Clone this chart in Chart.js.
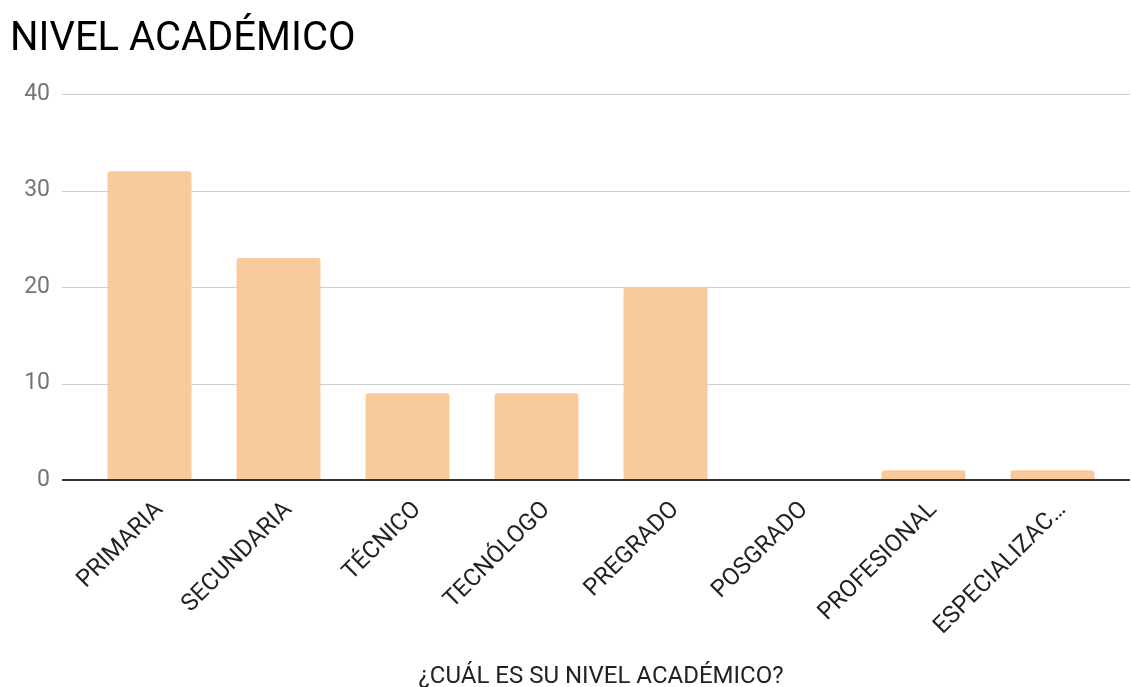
<!DOCTYPE html>
<html lang="es">
<head>
<meta charset="UTF-8">
<title>Nivel académico</title>
<script src="https://cdn.jsdelivr.net/npm/chart.js"></script>
<style>
  html, body { margin: 0; padding: 0; background: #fff; }
  #wrap { width: 1131px; height: 687px; position: relative; }
</style>
</head>
<body>
<div id="wrap"><canvas id="nivelChart"></canvas></div>
<script>
// datos
const categorias = ['PRIMARIA', 'SECUNDARIA', 'TÉCNICO', 'TECNÓLOGO', 'PREGRADO', 'POSGRADO', 'PROFESIONAL', 'ESPECIALIZACIÓN'];
const respuestas = [32, 23, 9, 9, 20, 0, 1, 1];
const ticksY = [0, 10, 20, 30, 40];

// lineas de guia mas anchas que el area de barras (como en el original)
const lineasGuia = {
  id: 'lineasGuia',
  beforeDatasetsDraw(chart) {
    const y = chart.scales.y, ctx = chart.ctx, area = chart.chartArea;
    ctx.save();
    ctx.strokeStyle = '#cccccc';
    ctx.lineWidth = 1;
    ticksY.forEach(v => {
      if (v === 0) return;
      const py = Math.round(y.getPixelForValue(v)) + 0.5;
      ctx.beginPath();
      ctx.moveTo(area.left - 23, py);
      ctx.lineTo(area.right + 13, py);
      ctx.stroke();
    });
    ctx.restore();
  },
  afterDatasetsDraw(chart) {
    const y = chart.scales.y, ctx = chart.ctx, area = chart.chartArea;
    const py = Math.round(y.getPixelForValue(0));
    ctx.save();
    ctx.strokeStyle = '#333333';
    ctx.lineWidth = 2;
    ctx.beginPath();
    ctx.moveTo(area.left - 23, py);
    ctx.lineTo(area.right + 13, py);
    ctx.stroke();
    ctx.restore();
  }
};

const ctx = document.getElementById('nivelChart').getContext('2d');
new Chart(ctx, {
  type: 'bar',
  data: {
    labels: categorias,
    datasets: [{
      label: 'Respuestas',
      data: respuestas,
      backgroundColor: '#f9cb9c',
      borderRadius: 3,
      borderSkipped: 'start',
      barPercentage: 0.651,
      categoryPercentage: 1
    }]
  },
  options: {
    responsive: true,
    maintainAspectRatio: false,
    animation: false,
    layout: { padding: { left: 10, right: 14, top: 0, bottom: 0 } },
    plugins: {
      legend: { display: false },
      tooltip: { enabled: false },
      title: {
        display: true,
        text: 'NIVEL ACADÉMICO',
        align: 'start',
        color: '#000',
        font: { family: 'Roboto', size: 40, weight: 'normal', lineHeight: 1.2 },
        padding: { top: 15.5, bottom: 30.5 }
      }
    },
    scales: {
      x: {
        grid: { display: false },
        border: { display: false },
        ticks: {
          minRotation: 45,
          maxRotation: 45,
          autoSkip: false,
          padding: 8,
          labelOffset: 10,
          color: '#222',
          font: { family: 'Roboto', size: 24 },
          callback: function (val) {
            const t = this.getLabelForValue(val);
            return t.length > 13 ? t.slice(0, 12) + '…' : t;
          }
        },
        title: {
          display: true,
          text: '¿CUÁL ES SU NIVEL ACADÉMICO?',
          color: '#222',
          font: { family: 'Roboto', size: 24, lineHeight: 1 },
          padding: { top: 0, bottom: -2 }
        },
        afterFit(scale) { scale.height = 207; }
      },
      y: {
        min: 0,
        max: 40,
        grid: { display: false, drawTicks: false },
        border: { display: false },
        ticks: {
          padding: 35,
          color: '#757575',
          font: { family: 'Roboto', size: 23 }
        },
        afterBuildTicks(scale) { scale.ticks = ticksY.map(v => ({ value: v })); },
        afterFit(scale) { scale.width = 75; }
      }
    }
  },
  plugins: [lineasGuia]
});
</script>
</body>
</html>
